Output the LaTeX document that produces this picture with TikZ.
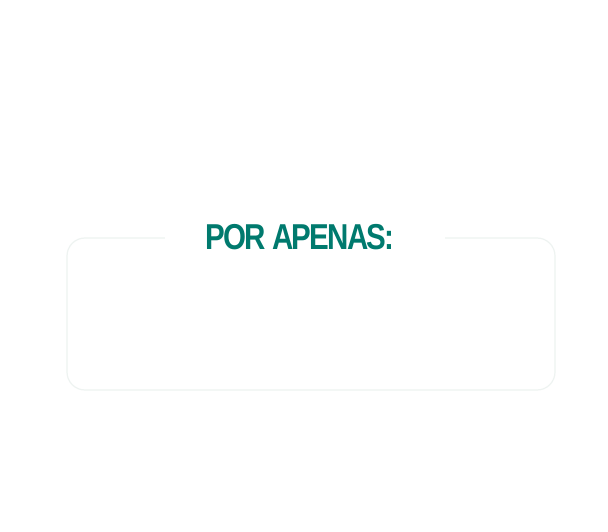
\documentclass[tikz,border=0pt]{standalone}
\usepackage{fontspec}
\newfontfamily\headfont[FakeStretch=0.82,LetterSpace=-5]{Liberation Sans}
\definecolor{teal1}{HTML}{007A6E}
\definecolor{bord}{HTML}{EEF3F1}
\begin{document}
\begin{tikzpicture}[x=1pt,y=1pt]
\useasboundingbox[fill=white] (0,0) rectangle (608,531);
\draw[bord,line width=1.2pt,rounded corners=18pt] (67,141) rectangle (555,293);
\fill[white] (165,288) rectangle (445,300);
\node[text=teal1,font=\headfont\bfseries\fontsize{36}{40}\selectfont,inner sep=0pt] (t) at (300,294) {POR APENAS:};
\end{tikzpicture}
\end{document}
